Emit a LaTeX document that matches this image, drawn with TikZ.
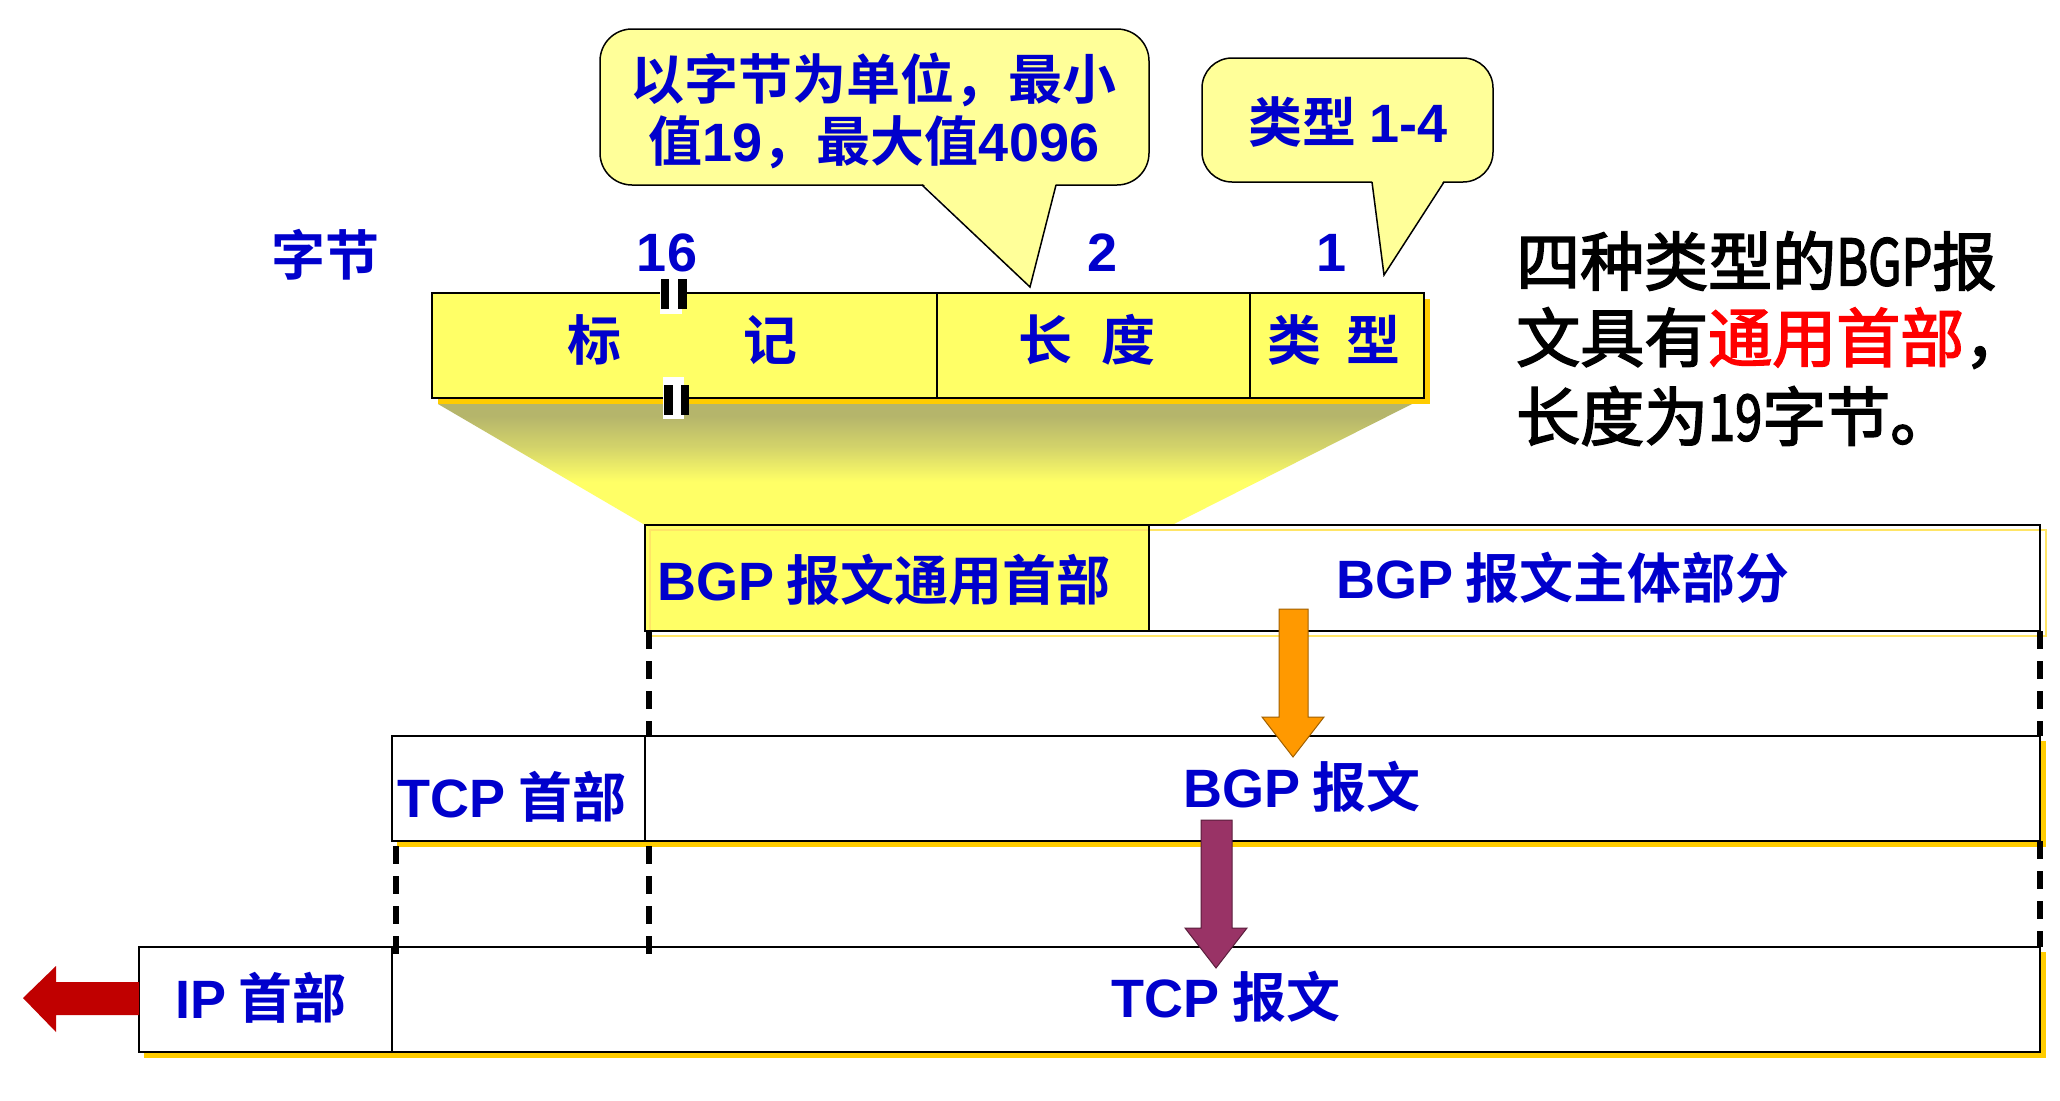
\documentclass[tikz,border=0pt]{standalone}
\usepackage{fontspec}
\usepackage{graphicx}
\newfontfamily\cjkfam{Noto Sans CJK SC}[BoldFont={Noto Sans CJK SC Bold}]
\newfontfamily\cjkfat{Noto Sans CJK SC}[FakeBold=2.5]
\newfontfamily\latfam{Liberation Sans}
\definecolor{tblue}{HTML}{0000CC}
\definecolor{hyellow}{HTML}{FFFF66}
\definecolor{cyellow}{HTML}{FFFF99}
\definecolor{shgold}{HTML}{FFCC00}
\definecolor{shlight}{HTML}{FFE566}
\definecolor{olivet}{HTML}{B5B56B}
\definecolor{trapmid}{HTML}{D4D46A}
\definecolor{darkreda}{HTML}{C00000}
\definecolor{orangea}{HTML}{FF9900}
\definecolor{orangeb}{HTML}{A06000}
\definecolor{purplea}{HTML}{993366}
\definecolor{purpleb}{HTML}{5A1E3C}
\newcommand\btfont{\cjkfam\bfseries\fontsize{54}{62}\selectfont}
\newcommand\Lb[1]{{\latfam\bfseries #1}}
\newcommand\Ln[1]{\scalebox{0.76}[1]{#1}}
\newcommand\rtfont{\cjkfat\fontsize{64}{78}\selectfont}
\pgfdeclareverticalshading{trapshade}{100bp}{color(0bp)=(hyellow); color(43bp)=(hyellow); color(57bp)=(trapmid); color(70bp)=(olivet); color(100bp)=(olivet)}
\tikzset{
  box/.style={draw=black, line width=2.5pt, outer sep=0pt, inner sep=0pt, anchor=north west},
  btxt/.style={text=tblue, font=\btfont, inner sep=0pt},
  rtxt/.style={text=black, font=\rtfont, inner sep=0pt, anchor=west},
  divln/.style={draw=black, line width=2pt},
  dashln/.style={draw=black, line width=6pt, dash pattern=on 18pt off 12pt},
  callout/.style={fill=cyellow, draw=black, line width=1.5pt},
  blockarrow/.style={line width=1pt, line join=miter},
}
\begin{document}
\begin{tikzpicture}[x=1pt,y=-1pt]
\useasboundingbox (0,0) rectangle (2060,1100);
\fill[white] (0,0) rectangle (2060,1100);

% ---- callout 1
\filldraw[callout, rounded corners=32pt] (600,29) rectangle (1149,185);
\fill[cyellow] (922,183) -- (1030,287) -- (1056,183) -- cycle;
\draw[line width=1.5pt] (922,185) -- (1030,287) -- (1056,185);
\node[btxt] (c1a) at (873,80) {以字节为单位，最小};
\node[btxt] (c1b) at (874,142) {值\Lb{19}，最大值\Lb{4096}};

% ---- callout 2
\filldraw[callout, rounded corners=30pt] (1202,58) rectangle (1493,182);
\fill[cyellow] (1372,180) -- (1384,275) -- (1444,180) -- cycle;
\draw[line width=1.5pt] (1372,182) -- (1384,275) -- (1444,182);
\node[btxt] (c2) at (1348,122) {类型 \Lb{1-4}};

% ---- byte labels
\node[btxt] (bytes) at (325,255) {字节};
\node[btxt] (n16) at (667,253) {\Lb{16}};
\node[btxt] (n2) at (1102,253) {\Lb{2}};
\node[btxt] (n1) at (1331,253) {\Lb{1}};

% ---- trapezoid
\shade[shading=trapshade] (438,404) -- (1412,404) -- (1172,525) -- (645,525) -- cycle;

% ---- header box
\fill[shgold] (438,299) rectangle (1430,404);
\node[box, fill=hyellow, minimum width=992pt, minimum height=105pt] (hdr) at (432,293) {};
\draw[divln] (937,293) -- (937,398);
\draw[divln] (1250,293) -- (1250,398);
\node[btxt] (mk1) at (594,340) {标};
\node[btxt] (mk2) at (770,340) {记};
\node[btxt] (len) at (1087,340) {长\hspace{30pt}度};
\node[btxt] (typ) at (1334,340) {类\hspace{26pt}型};
% break marks
\fill[white] (660,279) rectangle (682,314);
\fill[black] (661,279) rectangle (669,309);
\fill[black] (678,279) rectangle (687,309);
\fill[white] (663,377) rectangle (684,419);
\fill[black] (664,385) rectangle (673,415);
\fill[black] (681,385) rectangle (689,415);

% ---- BGP row
\node[box, fill=hyellow, minimum width=504pt, minimum height=106pt, draw=none] (bgph) at (645,525) {};
\node[box, fill=white, minimum width=891pt, minimum height=106pt, draw=none] (bgpb) at (1149,525) {};
\draw[shlight, line width=2.5pt] (650,530) rectangle (2046,636);
\draw[black, line width=2.5pt] (645,525) rectangle (2040,631);
\draw[divln] (bgph.north east) -- (bgph.south east);
\node[btxt] (t1) at (884,580) {\Lb{BGP} 报文通用首部};
\node[btxt] (t2) at (1563,578) {\Lb{BGP} 报文主体部分};

% ---- TCP row
\fill[shgold] (397,741) rectangle (2046,847);
\node[box, fill=white, minimum width=253pt, minimum height=105pt] (tcph) at (392,736) {};
\node[box, fill=white, minimum width=1395pt, minimum height=105pt] (tcpb) at (645,736) {};
\node[btxt] (t3) at (512,797) {\Lb{TCP} 首部};
\node[btxt] (t4) at (1302,787) {\Lb{BGP} 报文};

% ---- IP row
\fill[shgold] (144,952) rectangle (2046,1058);
\node[box, fill=white, minimum width=253pt, minimum height=105pt] (iph) at (139,947) {};
\node[box, fill=white, minimum width=1648pt, minimum height=105pt] (ipb) at (392,947) {};
\node[btxt] (t5) at (261,998) {\Lb{IP} 首部};
\node[btxt] (t6) at (1226,997) {\Lb{TCP} 报文};

% ---- dashed guide lines
\coordinate (d1a) at ([xshift=3.5pt]bgph.south west);
\coordinate (d1b) at ([xshift=3.5pt]tcpb.north west);
\coordinate (d2a) at ([xshift=3.5pt,yshift=-5pt]tcph.south west);
\coordinate (d2b) at ([xshift=3.5pt,yshift=-8pt]iph.north east);
\coordinate (d3a) at ([xshift=3.5pt,yshift=-5pt]tcpb.south west);
\coordinate (d3b) at ([xshift=3.5pt,yshift=-8pt]ipb.north west);
\draw[dashln] (d1a) -- (d1b);
\draw[dashln] (bgpb.south east) -- (tcpb.north east);
\draw[dashln] (d2a) -- (d2a |- d2b);
\draw[dashln] (d3a) -- (d3a |- d3b);
\draw[dashln] (tcpb.south east) -- (ipb.north east);

% ---- block arrows
\filldraw[blockarrow, fill=orangea, draw=orangeb] (1279,609) -- (1308,609) -- (1308,717) -- (1324,717) -- (1293,757) -- (1262,717) -- (1279,717) -- cycle;
\filldraw[blockarrow, fill=purplea, draw=purpleb] (1201,820) -- (1232,820) -- (1232,928) -- (1247,928) -- (1216,968) -- (1185,928) -- (1201,928) -- cycle;
\fill[darkreda] (139,982) -- (56,982) -- (56,966) -- (23,998) -- (56,1032) -- (56,1015) -- (139,1015) -- cycle;

% ---- right text
\node[rtxt] (r1) at (1516,261) {四种类型的\Ln{BGP}报};
\node[rtxt] (r2) at (1516,338) {文具有\textcolor{red}{通用首部}，};
\node[rtxt] (r3) at (1516,416) {长度为\Ln{19}字节。};
\end{tikzpicture}
\end{document}
